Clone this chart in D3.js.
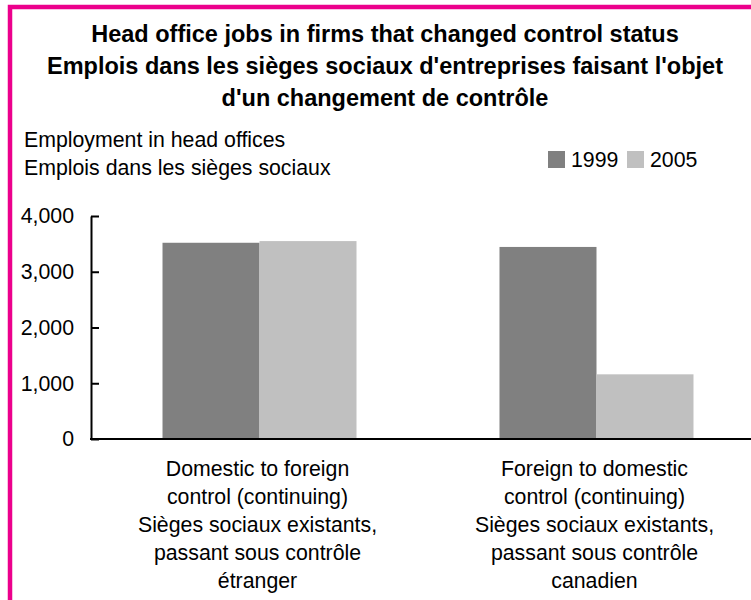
<!DOCTYPE html>
<html>
<head>
<meta charset="utf-8">
<script src="https://cdn.jsdelivr.net/npm/d3@7"></script>
<style>
  body { margin: 0; background: #fff; }
  svg { display: block; font-family: "Liberation Sans", Arial, sans-serif; }
</style>
</head>
<body>
<svg width="751" height="600"></svg>
<script>
// data
var categories = [
    ["Domestic to foreign", "control (continuing)", "Sièges sociaux existants,", "passant sous contrôle", "étranger"],
    ["Foreign to domestic", "control (continuing)", "Sièges sociaux existants,", "passant sous contrôle", "canadien"]
];
var seriesNames = ["1999", "2005"];
var values1999 = [3520, 3445];
var values2005 = [3550, 1160];
var yTicks = [0, 1000, 2000, 3000, 4000];
var titleLines = [
    "Head office jobs in firms that changed control status",
    "Emplois dans les sièges sociaux d'entreprises faisant l'objet",
    "d'un changement de contrôle"
];
var yTitleLines = ["Employment in head offices", "Emplois dans les sièges sociaux"];

var colors = { "1999": "#808080", "2005": "#c0c0c0" };
var textSize = "21.3px";

var svg = d3.select("svg");

// pink frame
svg.append("rect")
    .attr("x", 10).attr("y", 7)
    .attr("width", 760).attr("height", 620)
    .attr("fill", "none")
    .attr("stroke", "#ec008c")
    .attr("stroke-width", 4.5);

// title
svg.append("g").selectAll("text").data(titleLines).enter().append("text")
    .attr("x", 385)
    .attr("y", function (d, i) { return 42 + i * 32; })
    .attr("text-anchor", "middle")
    .style("font-size", "23.5px")
    .style("font-weight", "bold")
    .text(function (d) { return d; });

// y axis title
svg.append("g").selectAll("text").data(yTitleLines).enter().append("text")
    .attr("x", 24)
    .attr("y", function (d, i) { return 147 + i * 28; })
    .style("font-size", textSize)
    .text(function (d) { return d; });

// scales
var keys = categories.map(function (d, i) { return i; });
var x0 = d3.scaleBand().domain(keys).range([91, 765]).paddingInner(0.4243).paddingOuter(0.2122);
var x1 = d3.scaleBand().domain(seriesNames).range([0, x0.bandwidth()]);
var y = d3.scaleLinear().domain([0, 4000]).range([439, 216]);

var rows = keys.map(function (i) {
    return { key: i, "1999": values1999[i], "2005": values2005[i] };
});

// bars
var groups = svg.append("g").selectAll("g").data(rows).enter().append("g")
    .attr("transform", function (d) { return "translate(" + x0(d.key) + ",0)"; });

groups.selectAll("rect")
    .data(function (d) { return seriesNames.map(function (s) { return { s: s, v: d[s] }; }); })
    .enter().append("rect")
    .attr("x", function (d) { return x1(d.s); })
    .attr("y", function (d) { return y(d.v); })
    .attr("width", x1.bandwidth())
    .attr("height", function (d) { return y(0) - y(d.v); })
    .attr("fill", function (d) { return colors[d.s]; });

// y axis
var yAxis = svg.append("g")
    .attr("transform", "translate(91,0)")
    .call(d3.axisLeft(y).tickValues(yTicks).tickSizeInner(-8).tickSizeOuter(0)
        .tickPadding(17).tickFormat(d3.format(",")));
yAxis.select(".domain").attr("stroke", "#000").attr("stroke-width", 2);
yAxis.selectAll(".tick line").attr("stroke", "#000").attr("stroke-width", 2);
yAxis.selectAll(".tick text")
    .style("font-size", textSize)
    .style("font-family", "Liberation Sans, Arial, sans-serif")
    .attr("fill", "#000");

// x axis line
svg.append("line")
    .attr("x1", 90).attr("x2", 751)
    .attr("y1", y(0)).attr("y2", y(0))
    .attr("stroke", "#000").attr("stroke-width", 2);

// category labels
var labels = svg.append("g").selectAll("text").data(rows).enter().append("text")
    .attr("text-anchor", "middle")
    .style("font-size", textSize);
labels.selectAll("tspan")
    .data(function (d) { return categories[d.key].map(function (t) { return { t: t, k: d.key }; }); })
    .enter().append("tspan")
    .attr("x", function (d) { return x0(d.k) + x0.bandwidth() / 2 - 2; })
    .attr("y", function (d, i) { return 476 + i * 28; })
    .text(function (d) { return d.t; });

// legend
var legendX = [548, 627];
var legend = svg.append("g").selectAll("g").data(seriesNames).enter().append("g")
    .attr("transform", function (d, i) { return "translate(" + legendX[i] + ",151)"; });
legend.append("rect")
    .attr("width", 17).attr("height", 17)
    .attr("fill", function (d) { return colors[d]; });
legend.append("text")
    .attr("x", 23).attr("y", 16)
    .style("font-size", textSize)
    .text(function (d) { return d; });
</script>
</body>
</html>
